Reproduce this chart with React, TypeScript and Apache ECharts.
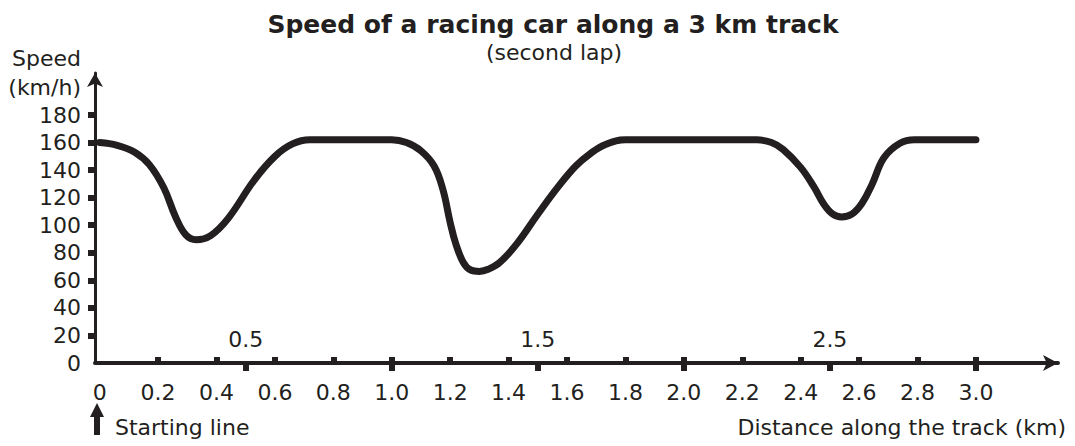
import React, { useEffect, useRef } from "react";
import * as echarts from "echarts";

// distance along the track (km)
const distanceKm = [
  0, 0.06, 0.12, 0.17, 0.22, 0.26, 0.295, 0.33, 0.38, 0.44, 0.53, 0.6, 0.66, 0.72,
  1.0, 1.05, 1.1, 1.145, 1.175, 1.2, 1.22, 1.245, 1.27, 1.3, 1.33, 1.37, 1.43, 1.5,
  1.57, 1.63, 1.68, 1.73, 1.8, 2.25, 2.3, 2.34, 2.4, 2.445, 2.48, 2.51, 2.54, 2.575,
  2.61, 2.645, 2.685, 2.74, 2.79, 3.0,
];
// speed (km/h)
const speedKmh = [
  160, 158, 153, 144, 127, 106, 93, 89.5, 92.5, 105, 133, 150, 159, 162,
  162, 160, 154, 143, 126, 102, 86, 73, 67.5, 66.5, 68, 73, 87, 108,
  128, 143, 152, 158.5, 162, 162, 160, 155, 142, 128, 115, 108, 106, 108,
  116, 130, 149, 159.5, 162, 162,
];

const xTickLabels = [0, 0.2, 0.4, 0.6, 0.8, 1.0, 1.2, 1.4, 1.6, 1.8, 2.0, 2.2, 2.4, 2.6, 2.8, 3.0];
const xMinorTicks = [0.2, 0.4, 0.6, 0.8, 1.0, 1.2, 1.4, 1.6, 1.8, 2.0, 2.2, 2.4, 2.6, 2.8, 3.0];
const xHalfLabels = [0.5, 1.5, 2.5];
const xLowerTicks = [0.5, 1.0, 1.5, 2.0, 2.5, 3.0];
const yTickLabels = [0, 20, 40, 60, 80, 100, 120, 140, 160, 180];
const yTicks = [20, 40, 60, 80, 100, 120, 140, 160, 180];

const INK = "#231f20";
const BODY_FONT = "'DejaVu Sans', 'Open Sans', sans-serif";

export default function App() {
  const ref = useRef<HTMLDivElement>(null);

  useEffect(() => {
    const chart = echarts.init(ref.current!, null, { renderer: "svg" });
    const data = distanceKm.map((d, i) => [d, speedKmh[i]]);
    const xMin = -0.016;
    const xMax = 3.281;
    const labelStyle = {
      fontSize: 22,
      fontWeight: "normal",
      lineHeight: 22,
      fontFamily: BODY_FONT,
      color: INK,
    };

    chart.setOption({
      animation: false,
      grid: { left: 95, right: 17, top: 73, bottom: 83, containLabel: false },
      xAxis: [
        {
          type: "value",
          position: "bottom",
          min: xMin,
          max: xMax,
          splitLine: { show: false },
          axisLine: {
            show: true,
            onZero: false,
            symbol: ["none", "arrow"],
            symbolSize: [12, 15],
            lineStyle: { color: INK, width: 4 },
          },
          axisTick: {
            show: true,
            inside: true,
            length: 6,
            customValues: xMinorTicks,
            lineStyle: { color: INK, width: 6 },
          },
          axisLabel: {
            show: true,
            customValues: xTickLabels,
            margin: 18,
            ...labelStyle,
            formatter: (v: number) => (v === 0 ? "0" : v.toFixed(1)),
          },
        },
        {
          type: "value",
          position: "bottom",
          min: xMin,
          max: xMax,
          splitLine: { show: false },
          axisLine: { show: false, onZero: false },
          axisTick: {
            show: true,
            inside: false,
            length: 8,
            customValues: xLowerTicks,
            lineStyle: { color: INK, width: 6 },
          },
          axisLabel: {
            show: true,
            inside: true,
            customValues: xHalfLabels,
            margin: 13,
            ...labelStyle,
            formatter: (v: number) => v.toFixed(1),
          },
        },
      ],
      yAxis: {
        type: "value",
        min: 0,
        max: 210.5,
        splitLine: { show: false },
        axisLine: {
          show: true,
          onZero: false,
          symbol: ["none", "arrow"],
          symbolSize: [12, 14],
          lineStyle: { color: INK, width: 3 },
        },
        axisTick: {
          show: true,
          length: 7,
          customValues: yTicks,
          lineStyle: { color: INK, width: 6 },
        },
        axisLabel: {
          show: true,
          customValues: yTickLabels,
          margin: 14,
          ...labelStyle,
        },
      },
      series: [
        {
          type: "line",
          xAxisIndex: 0,
          yAxisIndex: 0,
          data,
          smooth: 0.4,
          showSymbol: false,
          lineStyle: { color: INK, width: 7, cap: "round" },
        },
      ],
      graphic: [
        {
          type: "text",
          x: 553,
          y: 24,
          style: {
            text: "Speed of a racing car along a 3 km track",
            fill: INK,
            font: "bold 25px 'DejaVu Sans', sans-serif",
            textAlign: "center",
            textVerticalAlign: "middle",
          },
        },
        {
          type: "text",
          x: 554,
          y: 52,
          style: {
            text: "(second lap)",
            fill: INK,
            font: "normal 22px 'DejaVu Sans', sans-serif",
            textAlign: "center",
            textVerticalAlign: "middle",
          },
        },
        {
          type: "text",
          x: 81,
          y: 58,
          style: {
            text: "Speed",
            fill: INK,
            font: "normal 22px " + BODY_FONT,
            textAlign: "right",
            textVerticalAlign: "middle",
          },
        },
        {
          type: "text",
          x: 81,
          y: 87,
          style: {
            text: "(km/h)",
            fill: INK,
            font: "normal 22px " + BODY_FONT,
            textAlign: "right",
            textVerticalAlign: "middle",
          },
        },
        {
          type: "text",
          x: 115,
          y: 427,
          style: {
            text: "Starting line",
            fill: INK,
            font: "normal 22px " + BODY_FONT,
            textAlign: "left",
            textVerticalAlign: "middle",
          },
        },
        {
          type: "text",
          x: 1066,
          y: 427,
          style: {
            text: "Distance along the track (km)",
            fill: INK,
            font: "normal 22px " + BODY_FONT,
            textAlign: "right",
            textVerticalAlign: "middle",
          },
        },
        {
          type: "polygon",
          shape: { points: [[97, 403], [90, 417], [104, 417]] },
          style: { fill: INK },
        },
        {
          type: "rect",
          shape: { x: 94, y: 416, width: 6, height: 19 },
          style: { fill: INK },
        },
      ],
    });

    return () => chart.dispose();
  }, []);

  return (
    <div
      ref={ref}
      style={{ position: "absolute", left: 0, top: 0, width: 1075, height: 446 }}
    />
  );
}
